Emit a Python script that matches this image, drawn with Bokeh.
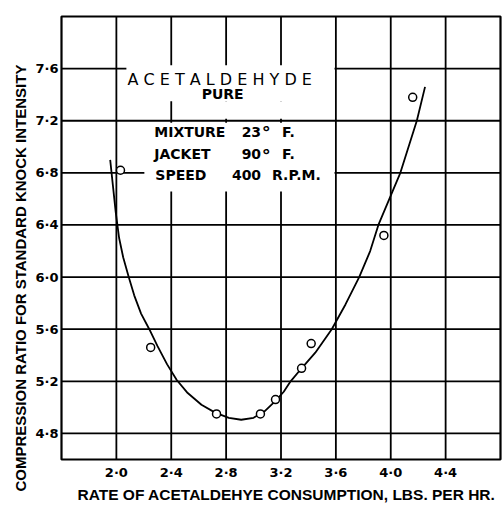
from bokeh.plotting import figure
from bokeh.models import FixedTicker, Label, BoxAnnotation, Title
from bokeh.embed import file_html
from bokeh.resources import INLINE

# ---- data ----
obs_rate = [2.03, 2.25, 2.73, 3.05, 3.16, 3.35, 3.42, 3.95, 4.16]
obs_cr = [6.82, 5.46, 4.95, 4.95, 5.06, 5.30, 5.49, 6.32, 7.38]

curve_rate = [1.955, 1.975, 1.995, 2.02, 2.05, 2.09, 2.13, 2.18, 2.24, 2.30,
              2.37, 2.44, 2.52, 2.62, 2.72, 2.82, 2.91, 3.00, 3.08, 3.16,
              3.22, 3.27, 3.35, 3.45, 3.57, 3.67, 3.77, 3.85, 3.91, 3.99,
              4.07, 4.13, 4.19, 4.25]
curve_cr = [6.90, 6.70, 6.50, 6.30, 6.15, 6.00, 5.86, 5.72, 5.60, 5.47,
            5.33, 5.21, 5.11, 5.02, 4.96, 4.92, 4.905, 4.92, 4.97, 5.05,
            5.12, 5.20, 5.30, 5.42, 5.60, 5.79, 6.00, 6.20, 6.40, 6.60,
            6.80, 7.00, 7.20, 7.46]

x_ticks = [2.0, 2.4, 2.8, 3.2, 3.6, 4.0, 4.4]
x_tick_labels = ["2·0", "2·4", "2·8", "3·2", "3·6", "4·0", "4·4"]
y_ticks = [4.8, 5.2, 5.6, 6.0, 6.4, 6.8, 7.2, 7.6]
y_tick_labels = ["4·8", "5·2", "5·6", "6·0", "6·4", "6·8", "7·2", "7·6"]

x_title = "RATE OF ACETALDEHYE CONSUMPTION, LBS. PER HR."
y_title = "COMPRESSION RATIO FOR STANDARD KNOCK INTENSITY"

FONT = "DejaVu Sans"
TITLE_FONT = "Liberation Sans"
X_RANGE = (1.6, 4.8)
Y_RANGE = (4.6, 8.0)

p = figure(width=504, height=505, x_range=X_RANGE, y_range=Y_RANGE,
           output_backend="svg", toolbar_location=None,
           min_border_left=61, min_border_right=4, min_border_top=16,
           min_border_bottom=42)
p.background_fill_color = "white"
p.border_fill_color = "white"
p.outline_line_color = "black"
p.outline_line_width = 2.2
p.grid.visible = False

for ax, ticks, labels in ((p.xaxis[0], x_ticks, x_tick_labels),
                          (p.yaxis[0], y_ticks, y_tick_labels)):
    ax.ticker = FixedTicker(ticks=ticks)
    ax.major_label_overrides = {t: l for t, l in zip(ticks, labels)}
    ax.axis_line_color = None
    ax.major_tick_line_color = None
    ax.minor_tick_line_color = None
    ax.major_tick_out = 0
    ax.major_tick_in = 0
    ax.minor_tick_out = 0
    ax.major_label_text_font = FONT
    ax.major_label_text_font_style = "bold"
    ax.major_label_text_font_size = "13px"
    ax.major_label_text_color = "black"
p.xaxis.major_label_standoff = 5
p.yaxis.major_label_standoff = 3

# axis titles as side titles, positioned like the original
p.add_layout(Title(text=y_title, align="left", offset=-32,
                   vertical_align="middle", standoff=6,
                   text_font=TITLE_FONT, text_font_style="bold",
                   text_font_size="15px", text_color="black"), "left")
p.add_layout(Title(text=x_title, align="left", offset=16,
                   vertical_align="middle", standoff=4,
                   text_font=TITLE_FONT, text_font_style="bold",
                   text_font_size="15.5px", text_color="black"), "below")

# grid lines drawn at the tick positions
p.segment(x0=x_ticks, x1=x_ticks, y0=[Y_RANGE[0]] * len(x_ticks),
          y1=[Y_RANGE[1]] * len(x_ticks), line_color="black", line_width=1.8)
p.segment(x0=[X_RANGE[0]] * len(y_ticks), x1=[X_RANGE[1]] * len(y_ticks),
          y0=y_ticks, y1=y_ticks, line_color="black", line_width=1.8)

# white masks behind the legend text (grid interrupted there)
for l, r, b, t in ((2.073, 3.59, 7.35, 7.625),
                   (2.45, 3.59, 7.215, 7.35),
                   (2.204, 3.59, 6.657, 7.185)):
    p.add_layout(BoxAnnotation(left=l, right=r, bottom=b, top=t,
                               fill_color="white", fill_alpha=1.0,
                               line_color=None))

p.line(curve_rate, curve_cr, line_color="black", line_width=1.8)
p.scatter(obs_rate, obs_cr, marker="circle", size=8, fill_color="white",
          line_color="black", line_width=1.5)


def lab(x, y, text, size="14px", style="bold", align="left"):
    p.add_layout(Label(x=x, y=y, text=text, text_font=FONT,
                       text_font_size=size, text_font_style=style,
                       text_align=align, text_baseline="middle",
                       text_color="black"))


lab(2.753, 7.517, "A C E T A L D E H Y D E", size="16px", style="normal",
    align="center")
lab(2.775, 7.404, "PURE", size="14px", align="center")
lab(2.276, 7.117, "MIXTURE")
lab(2.276, 6.943, "JACKET")
lab(2.284, 6.785, "SPEED")
lab(3.055, 7.117, "23", align="right")
lab(3.055, 6.943, "90", align="right")
lab(3.055, 6.785, "400", align="right")
lab(3.060, 7.110, "°", size="18px")
lab(3.060, 6.936, "°", size="18px")
lab(3.207, 7.117, "F.")
lab(3.207, 6.943, "F.")
lab(3.135, 6.785, "R.P.M.")

open("out.html", "w").write(file_html(p, INLINE))
